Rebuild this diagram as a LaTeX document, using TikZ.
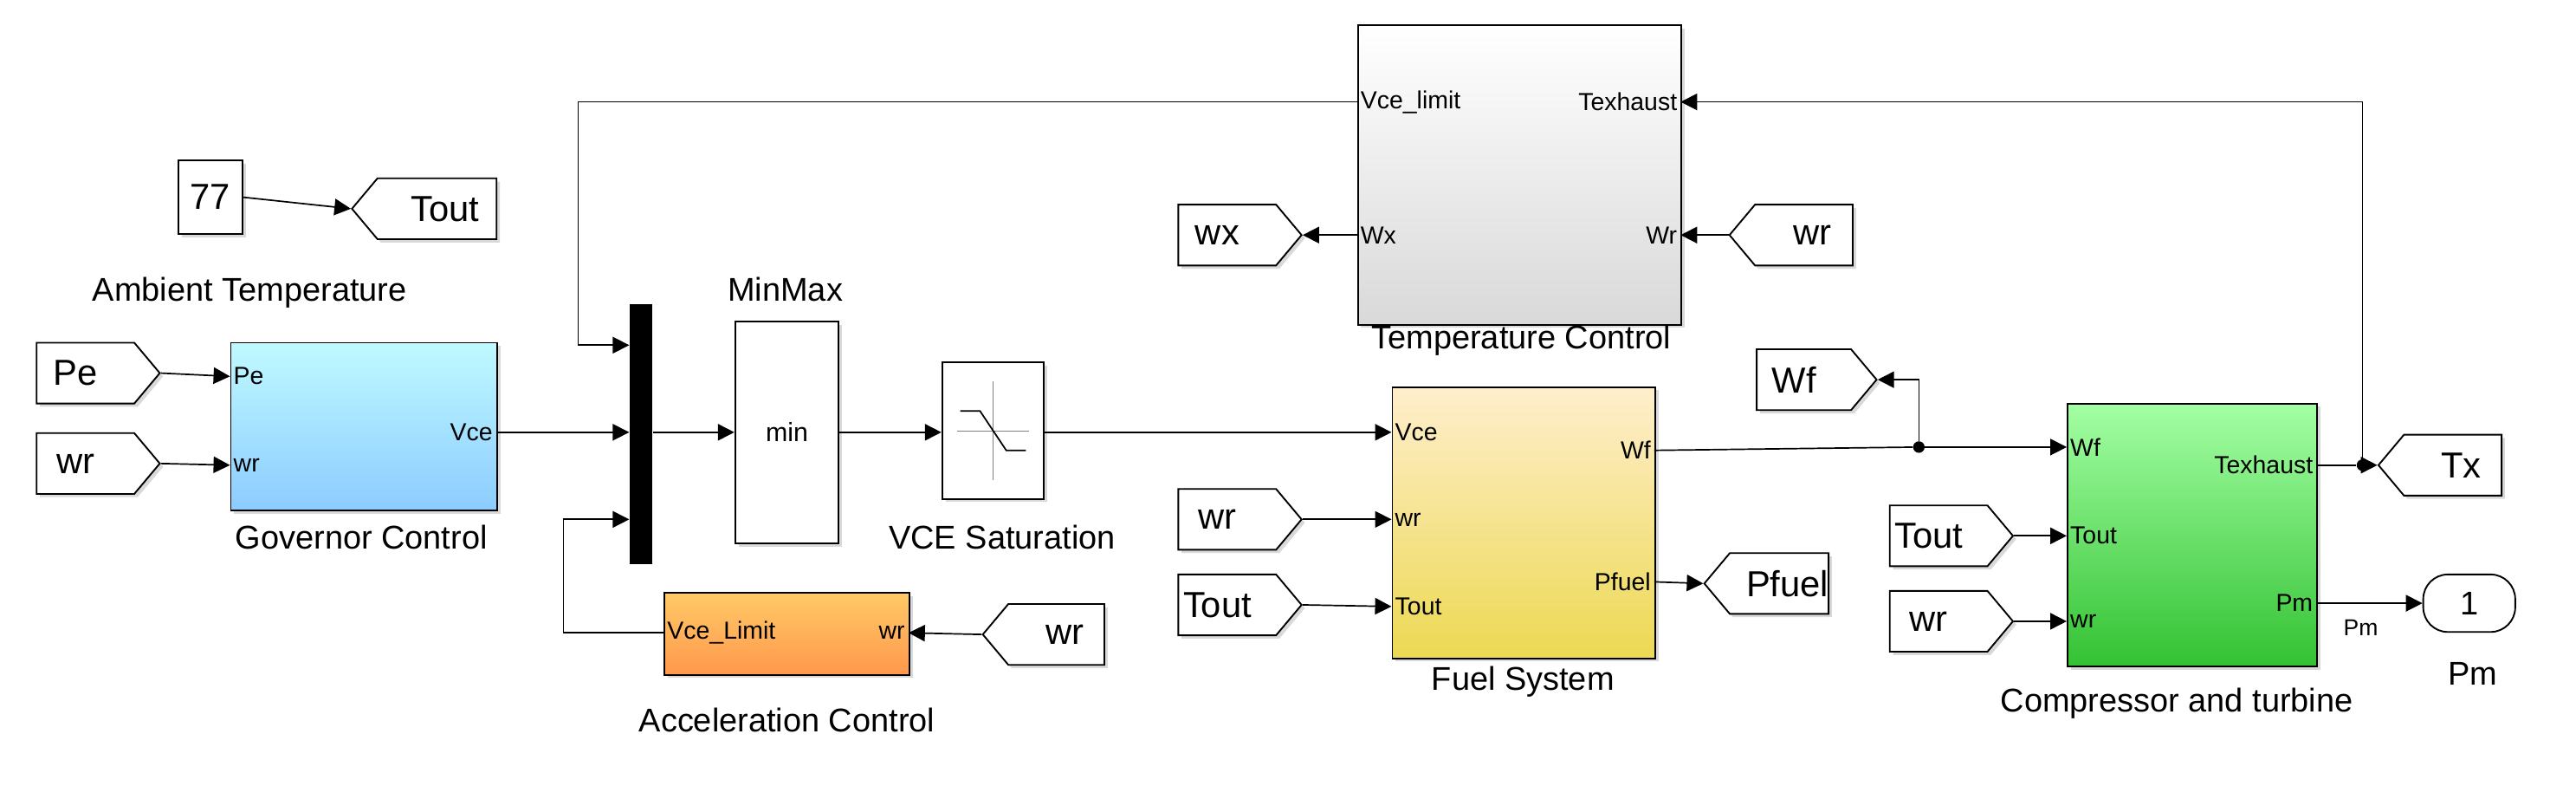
\documentclass[tikz,border=0pt]{standalone}
\usepackage{fontspec}
\setmainfont{Liberation Sans}
\usetikzlibrary{shapes.symbols,arrows.meta,shadows}
\begin{document}
\begin{tikzpicture}[x=1pt,y=-1pt,
  arr/.style={-{Triangle[length=10pt,width=10pt]},line width=0.9pt},
  ln/.style={line width=0.9pt},
  blk/.style={draw,line width=1pt,anchor=north west,inner sep=0pt,drop shadow={opacity=0.3,shadow xshift=2pt,shadow yshift=-2pt}},
  tagR/.style={draw,line width=1pt,shape=signal,signal to=east,signal pointer angle=100,minimum height=37pt,inner sep=0pt,font=\fontsize{22}{22}\selectfont,drop shadow={opacity=0.3,shadow xshift=2pt,shadow yshift=-2pt},fill=white},
  tagL/.style={tagR,signal to=west},
  port/.style={font=\fontsize{15}{15}\selectfont,inner sep=2pt},
  lab/.style={font=\fontsize{20}{20}\selectfont},
  dot/.style={circle,fill,inner sep=0pt,minimum size=7pt}]
\useasboundingbox (0,0) rectangle (1568,478);
% constant
\node[blk,fill=white,minimum width=39pt,minimum height=45pt] (c77) at (108,97) {};
\node[font=\fontsize{22}{22}\selectfont] at (c77.center) {77};
\node[lab] at (152,178) {Ambient Temperature};
\node[tagL,minimum width=88pt] (toutA) at (266,127) {\hspace*{10pt}Tout};
\draw[arr] (c77.east) -- (toutA.west);
% governor
\node[tagR,minimum width=75pt] (pe) at (52,227) {Pe\hspace*{12pt}};
\node[tagR,minimum width=75pt] (wr1) at (52,282) {wr\hspace*{12pt}};
\node[blk,top color=blue!8!cyan!25,bottom color=blue!45!cyan!45,minimum width=162pt,minimum height=102pt] (gov) at (140,208) {};
\coordinate (govPe) at (140,229); \coordinate (govWr) at (140,283); \coordinate (govVce) at (302,263);
\node[port,anchor=west] at (govPe) {Pe};
\node[port,anchor=west] at (govWr) {wr};
\node[port,anchor=east] at (govVce) {Vce};
\node[lab] at (220,327) {Governor Control};
\draw[arr] (pe.east) -- (govPe);
\draw[arr] (wr1.east) -- (govWr);
% mux
\node[fill=black,anchor=north west,minimum width=14pt,minimum height=158pt,inner sep=0pt] (mux) at (383,185) {};
\coordinate (mux1) at (383,210); \coordinate (mux2) at (383,263); \coordinate (mux3) at (383,316);
\draw[arr] (govVce) -- (mux2);
% minmax
\node[blk,fill=white,minimum width=63pt,minimum height=135pt] (mm) at (447,195) {};
\node[font=\rmfamily\fontsize{16}{16}\selectfont] at (mm.center) {min};
\node[lab] at (478,176) {MinMax};
\draw[arr] (mux.east |- mux2) -- (mm.west |- mux2);
% saturation
\node[blk,fill=white,minimum width=62pt,minimum height=83pt] (sat) at (573,220) {};
\draw[line width=0.4pt,gray] ([xshift=-22pt]sat.center) -- ([xshift=22pt]sat.center);
\draw[line width=0.4pt,gray] ([yshift=-30pt]sat.center) -- ([yshift=30pt]sat.center);
\draw[line width=0.9pt] ([xshift=-20pt,yshift=12pt]sat.center) -- ([xshift=-8pt,yshift=12pt]sat.center) -- ([xshift=8pt,yshift=-12pt]sat.center) -- ([xshift=20pt,yshift=-12pt]sat.center);
\node[lab] at (610,327) {VCE Saturation};
\draw[arr] (mm.east |- mux2) -- (sat.west |- mux2);
% acceleration
\node[blk,top color=orange!70!yellow!60,bottom color=orange!85!red!70,minimum width=149pt,minimum height=50pt] (acc) at (404,360) {};
\coordinate (accOut) at (404,385); \coordinate (accWr) at (553,385);
\node[port,anchor=west] at (accOut) {Vce\_Limit};
\node[port,anchor=east] at (accWr) {wr};
\node[lab] at (479,438) {Acceleration Control};
\node[tagL,minimum width=74pt] (wr2) at (643,386) {\hspace*{10pt}wr};
\draw[arr] (wr2.west) -- (accWr);
\draw[arr] (accOut) -- (343,385) -- (343,316) -- (mux3);
% fuel system
\node[blk,top color=yellow!35!orange!20,bottom color=yellow!60!brown!75,minimum width=160pt,minimum height=165pt] (fuel) at (847,235) {};
\coordinate (fVce) at (847,263); \coordinate (fWr) at (847,316); \coordinate (fTout) at (847,369);
\coordinate (fWf) at (1007,274); \coordinate (fPf) at (1007,354);
\node[port,anchor=west] at (fVce) {Vce};
\node[port,anchor=west] at (fWr) {wr};
\node[port,anchor=west] at (fTout) {Tout};
\node[port,anchor=east] at (fWf) {Wf};
\node[port,anchor=east] at (fPf) {Pfuel};
\node[lab] at (927,415) {Fuel System};
\draw[arr] (sat.east |- mux2) -- (fVce);
\node[tagR,minimum width=75pt] (wr3) at (747,316) {wr\hspace*{12pt}};
\node[tagR,minimum width=75pt] (tout1) at (747,368) {Tout\hspace*{12pt}};
\draw[arr] (wr3.east) -- (fWr);
\draw[arr] (tout1.east) -- (fTout);
\node[tagL,minimum width=75pt] (pfuel) at (1083,355) {\hspace*{10pt}Pfuel};
\draw[arr] (fPf) -- (pfuel.west);
% temperature control
\node[blk,top color=white,bottom color=gray!30,minimum width=197pt,minimum height=182pt] (temp) at (826,15) {};
\coordinate (tVl) at (826,62); \coordinate (tTex) at (1023,62); \coordinate (tWx) at (826,143); \coordinate (tWr) at (1023,143);
\node[port,anchor=west] at (tVl) {Vce\_limit};
\node[port,anchor=east] at (tTex) {Texhaust};
\node[port,anchor=west] at (tWx) {Wx};
\node[port,anchor=east] at (tWr) {Wr};
\node[lab] at (926,207) {Temperature Control};
\node[tagR,minimum width=75pt] (wx) at (747,143) {wx\hspace*{12pt}};
\draw[arr] (tWx) -- (wx.east);
\node[tagL,minimum width=75pt] (wr4) at (1098,143) {\hspace*{10pt}wr};
\draw[arr] (wr4.west) -- (tWr);
\draw[arr] (tVl) -- (352,62) -- (352,210) -- (mux1);
% compressor
\node[blk,top color=green!45!white!80,bottom color=green!70!black!80,minimum width=152pt,minimum height=160pt] (comp) at (1258,245) {};
\coordinate (cWf) at (1258,272); \coordinate (cTout) at (1258,326); \coordinate (cWr) at (1258,378);
\coordinate (cTex) at (1410,283); \coordinate (cPm) at (1410,367);
\node[port,anchor=west] at (cWf) {Wf};
\node[port,anchor=west] at (cTout) {Tout};
\node[port,anchor=west] at (cWr) {wr};
\node[port,anchor=east] at (cTex) {Texhaust};
\node[port,anchor=east] at (cPm) {Pm};
\node[lab] at (1325,428) {Compressor and turbine};
\node[dot] (b1) at (1168,272) {};
\draw[ln] (fWf) -- (b1);
\draw[arr] (b1) -- (cWf);
\node[tagR,minimum width=73pt] (wf) at (1098,231) {Wf\hspace*{12pt}};
\draw[arr] (b1) -- (1168,231) -- (wf.east);
\node[tagR,minimum width=75pt] (tout2) at (1180,326) {Tout\hspace*{12pt}};
\node[tagR,minimum width=75pt] (wr5) at (1180,378) {wr\hspace*{12pt}};
\draw[arr] (tout2.east) -- (cTout);
\draw[arr] (wr5.east) -- (cWr);
\node[dot] (b2) at (1438,283) {};
\draw[ln] (cTex) -- (b2);
\node[tagL,minimum width=75pt] (tx) at (1493,283) {\hspace*{10pt}Tx};
\draw[arr] (b2) -- (tx.west);
\draw[arr] (b2) -- (1438,62) -- (tTex);
\node[draw,line width=1pt,rounded corners=15pt,minimum width=56pt,minimum height=35pt,fill=white,font=\fontsize{20}{20}\selectfont] (out1) at (1503,367) {1};
\draw[arr] (cPm) -- (out1.west);
\node[port,font=\fontsize{14}{14}\selectfont] at (1437,382) {Pm};
\node[lab] at (1505,410) {Pm};
\end{tikzpicture}
\end{document}
